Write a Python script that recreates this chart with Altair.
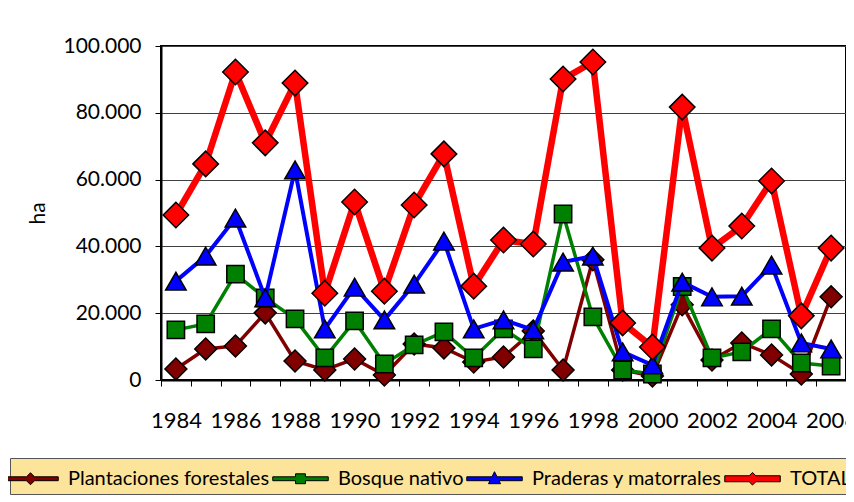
import altair as alt
import pandas as pd

years = list(range(1984, 2007))
plantaciones = [3.3, 9.3, 10.2, 20.1, 5.7, 3.0, 6.3, 1.5, 10.8, 9.6, 5.4, 6.9, 14.7, 3.0,
                36.0, 3.0, 1.2, 22.5, 6.0, 11.1, 7.5, 1.8, 24.9]
bosque = [15.0, 16.8, 31.7, 24.6, 18.3, 6.6, 17.7, 4.8, 10.5, 14.4, 6.6, 15.3, 9.3, 49.7,
          18.9, 3.0, 1.8, 28.0, 6.6, 8.4, 15.3, 5.1, 4.2]
praderas = [29.6, 37.1, 48.5, 24.6, 62.9, 15.3, 27.8, 18.0, 28.7, 41.6, 15.3, 18.0, 15.0, 35.3,
            37.1, 8.4, 4.5, 29.3, 24.9, 25.1, 34.4, 11.1, 9.3]
total = [49.4, 64.7, 92.2, 71.0, 88.9, 26.0, 53.3, 26.6, 52.4, 67.7, 28.1, 41.9, 40.7, 90.1,
         95.2, 17.1, 9.9, 81.7, 39.5, 46.1, 59.6, 19.2, 39.5]

series_names = ["Plantaciones forestales", "Bosque nativo", "Praderas y matorrales", "TOTAL"]
series_values = [plantaciones, bosque, praderas, total]
colors = ["#800000", "#008000", "#0000FF", "#FF0000"]
shapes = ["diamond", "square", "triangle-up", "diamond"]
line_widths = [3.5, 3.5, 4, 6.5]
point_sizes = [480, 300, 420, 650]

# legend glyphs: a line segment with the series marker in the middle
legend_shapes = [
    "M-1.85,-0.13L-0.27,-0.13L0,-0.4L0.27,-0.13L1.85,-0.13L1.85,0.13L0.27,0.13L0,0.4L-0.27,0.13L-1.85,0.13Z",
    "M-1.85,-0.13L-0.33,-0.13L-0.33,-0.33L0.33,-0.33L0.33,-0.13L1.85,-0.13L1.85,0.13L0.33,0.13L0.33,0.33L-0.33,0.33L-0.33,0.13L-1.85,0.13Z",
    "M-1.85,-0.13L-0.17,-0.13L0,-0.47L0.17,-0.13L1.85,-0.13L1.85,0.13L0.3,0.13L0.4,0.33L-0.4,0.33L-0.3,0.13L-1.85,0.13Z",
    "M-1.85,-0.2L-0.22,-0.2L0,-0.42L0.22,-0.2L1.85,-0.2L1.85,0.2L0.22,0.2L0,0.42L-0.22,0.2L-1.85,0.2Z",
]

rows = []
for name, vals in zip(series_names, series_values):
    for yr, v in zip(years, vals):
        rows.append({"year": yr, "serie": name, "ha": v * 1000})
df = pd.DataFrame(rows)

FONT = "Lato"

x_enc = alt.X(
    "year:O",
    scale=alt.Scale(type="band", paddingInner=0, paddingOuter=0),
    bandPosition=0.5,
    axis=alt.Axis(
        title=None,
        tickBand="extent",
        labelExpr="datum.value % 2 == 0 ? datum.label : ''",
        labelAngle=0,
        labelFontSize=22,
        labelFont=FONT,
        labelColor="black",
        labelPadding=24,
        tickColor="black",
        tickSize=6,
        domainColor="black",
        domainWidth=2,
        grid=False,
    ),
)
y_enc = alt.Y(
    "ha:Q",
    scale=alt.Scale(domain=[0, 100000], nice=False),
    axis=alt.Axis(
        title="ha",
        titleFont=FONT,
        titleFontSize=21,
        titleFontWeight="normal",
        titleColor="black",
        titlePadding=14,
        values=[0, 20000, 40000, 60000, 80000, 100000],
        labelExpr="replace(format(datum.value, ',d'), ',', '.')",
        labelFontSize=21,
        labelFont=FONT,
        labelColor="black",
        labelPadding=14,
        tickColor="black",
        tickSize=6,
        domainColor="black",
        domainWidth=2,
        grid=True,
        gridColor="#404040",
        gridWidth=1,
    ),
)

fill_scale = alt.Scale(domain=series_names, range=colors)
shape_scale = alt.Scale(domain=series_names, range=legend_shapes)

legend = alt.Legend(
    title=None,
    orient="none",
    legendX=-151,
    legendY=412,
    direction="horizontal",
    columns=4,
    labelFont=FONT,
    labelFontSize=20,
    labelColor="black",
    labelLimit=400,
    symbolSize=900,
    symbolStrokeColor="black",
    symbolStrokeWidth=1,
    symbolOpacity=1,
    symbolFillColor="black",
    columnPadding=0,
    labelOffset=22,
    padding=5,
    fillColor="#FCE49A",
    strokeColor="#555555",
)

layers = []
for i, (name, col, shp, w, s) in enumerate(zip(series_names, colors, shapes, line_widths, point_sizes)):
    base = alt.Chart(df[df["serie"] == name])
    line = base.mark_line(strokeWidth=w, strokeJoin="miter", color=col).encode(x=x_enc, y=y_enc)
    pts = base.mark_point(
        filled=True, shape=shp, fill=col, stroke="black", strokeWidth=1.5, size=s, opacity=1
    ).encode(x=x_enc, y=y_enc)
    layers += [line, pts]

# invisible layer that only carries the legend
legend_layer = alt.Chart(df).mark_point(filled=True, opacity=0, stroke="black").encode(
    x=x_enc,
    y=y_enc,
    fill=alt.Fill("serie:N", scale=fill_scale, legend=legend),
    shape=alt.Shape("serie:N", scale=shape_scale, legend=legend),
)
layers.append(legend_layer)

chart = (
    alt.layer(*layers)
    .properties(
        width=685,
        height=334,
        autosize=alt.AutoSizeParams(type="none"),
        padding={"left": 153, "top": 38, "right": 0, "bottom": 122},
        background="white",
    )
    .configure_view(stroke="black", strokeWidth=2)
)

chart.save("out.html", embed_options={"renderer": "svg", "actions": False})
